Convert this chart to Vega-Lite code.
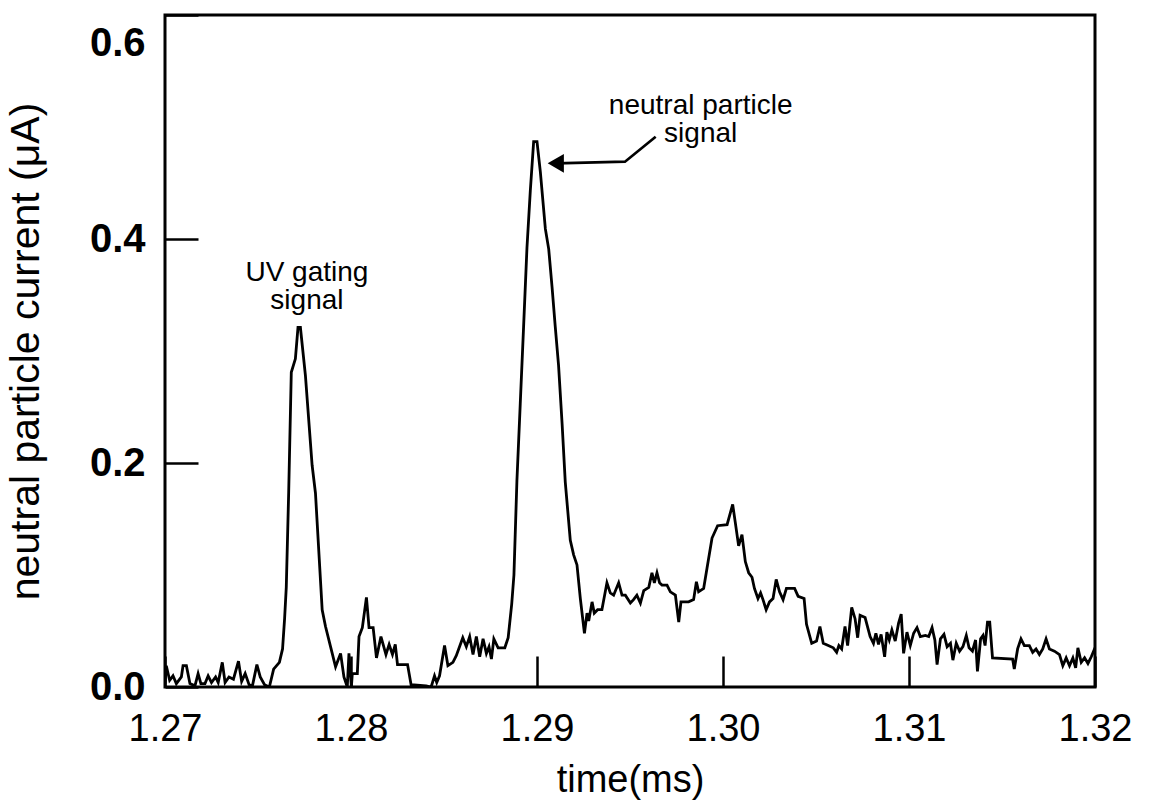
{
  "$schema": "https://vega.github.io/schema/vega-lite/v6.json",
  "autosize": "none",
  "width": 930,
  "height": 672,
  "padding": {"left": 165, "top": 15, "right": 56, "bottom": 118},
  "background": "white",
  "config": {
    "view": {"stroke": "black", "strokeWidth": 3},
    "font": "Liberation Sans"
  },
  "datasets": {
    "curve": [
      {"t":1.27000,"v":0.003},{"t":1.27007,"v":0.019},{"t":1.27025,"v":0.006},{"t":1.27043,"v":0.010},{"t":1.27061,"v":0.003},
      {"t":1.27088,"v":0.009},{"t":1.27097,"v":0.019},{"t":1.27115,"v":0.019},{"t":1.27134,"v":0.003},{"t":1.27161,"v":0.001},
      {"t":1.27178,"v":0.012},{"t":1.27193,"v":0.003},{"t":1.27215,"v":0.003},{"t":1.27232,"v":0.010},{"t":1.27250,"v":0.004},
      {"t":1.27272,"v":0.009},{"t":1.27286,"v":0.004},{"t":1.27308,"v":0.022},{"t":1.27323,"v":0.004},{"t":1.27344,"v":0.009},
      {"t":1.27368,"v":0.007},{"t":1.27395,"v":0.023},{"t":1.27412,"v":0.005},{"t":1.27431,"v":0.012},{"t":1.27452,"v":0.002},
      {"t":1.27470,"v":0.001},{"t":1.27494,"v":0.020},{"t":1.27512,"v":0.009},{"t":1.27535,"v":0.002},{"t":1.27561,"v":0.000},
      {"t":1.27584,"v":0.016},{"t":1.27615,"v":0.022},{"t":1.27632,"v":0.034},{"t":1.27643,"v":0.061},{"t":1.27652,"v":0.089},
      {"t":1.27665,"v":0.174},{"t":1.27679,"v":0.281},{"t":1.27701,"v":0.293},{"t":1.27715,"v":0.321},{"t":1.27728,"v":0.321},
      {"t":1.27755,"v":0.278},{"t":1.27791,"v":0.198},{"t":1.27809,"v":0.173},{"t":1.27845,"v":0.069},{"t":1.27863,"v":0.054},
      {"t":1.27890,"v":0.036},{"t":1.27917,"v":0.018},{"t":1.27944,"v":0.030},{"t":1.27962,"v":0.009},{"t":1.27980,"v":0.000},
      {"t":1.27989,"v":0.030},{"t":1.28002,"v":0.000},{"t":1.28007,"v":0.012},{"t":1.28034,"v":0.012},{"t":1.28043,"v":0.045},
      {"t":1.28061,"v":0.053},{"t":1.28083,"v":0.080},{"t":1.28097,"v":0.053},{"t":1.28119,"v":0.053},{"t":1.28137,"v":0.026},
      {"t":1.28161,"v":0.045},{"t":1.28188,"v":0.029},{"t":1.28205,"v":0.038},{"t":1.28223,"v":0.029},{"t":1.28238,"v":0.038},
      {"t":1.28250,"v":0.020},{"t":1.28304,"v":0.020},{"t":1.28323,"v":0.002},{"t":1.28404,"v":0.001},{"t":1.28431,"v":0.000},
      {"t":1.28449,"v":0.010},{"t":1.28461,"v":0.004},{"t":1.28476,"v":0.010},{"t":1.28503,"v":0.037},{"t":1.28521,"v":0.019},
      {"t":1.28548,"v":0.022},{"t":1.28566,"v":0.028},{"t":1.28601,"v":0.044},{"t":1.28620,"v":0.036},{"t":1.28638,"v":0.045},
      {"t":1.28656,"v":0.029},{"t":1.28674,"v":0.045},{"t":1.28692,"v":0.027},{"t":1.28710,"v":0.043},{"t":1.28728,"v":0.030},
      {"t":1.28742,"v":0.036},{"t":1.28755,"v":0.025},{"t":1.28768,"v":0.043},{"t":1.28791,"v":0.035},{"t":1.28827,"v":0.035},
      {"t":1.28845,"v":0.044},{"t":1.28864,"v":0.074},{"t":1.28876,"v":0.100},{"t":1.28892,"v":0.184},{"t":1.28910,"v":0.253},
      {"t":1.28928,"v":0.322},{"t":1.28946,"v":0.392},{"t":1.28964,"v":0.443},{"t":1.28982,"v":0.487},{"t":1.29000,"v":0.487},
      {"t":1.29018,"v":0.460},{"t":1.29045,"v":0.409},{"t":1.29063,"v":0.391},{"t":1.29081,"v":0.357},{"t":1.29098,"v":0.322},
      {"t":1.29116,"v":0.287},{"t":1.29135,"v":0.235},{"t":1.29152,"v":0.183},{"t":1.29179,"v":0.131},{"t":1.29197,"v":0.118},
      {"t":1.29215,"v":0.109},{"t":1.29233,"v":0.079},{"t":1.29255,"v":0.048},{"t":1.29269,"v":0.066},{"t":1.29278,"v":0.059},
      {"t":1.29296,"v":0.076},{"t":1.29308,"v":0.066},{"t":1.29326,"v":0.069},{"t":1.29349,"v":0.069},{"t":1.29376,"v":0.093},
      {"t":1.29394,"v":0.084},{"t":1.29412,"v":0.082},{"t":1.29439,"v":0.093},{"t":1.29457,"v":0.082},{"t":1.29475,"v":0.082},
      {"t":1.29502,"v":0.075},{"t":1.29519,"v":0.078},{"t":1.29537,"v":0.082},{"t":1.29556,"v":0.075},{"t":1.29574,"v":0.086},
      {"t":1.29601,"v":0.089},{"t":1.29618,"v":0.102},{"t":1.29631,"v":0.093},{"t":1.29645,"v":0.102},{"t":1.29659,"v":0.093},
      {"t":1.29672,"v":0.091},{"t":1.29699,"v":0.091},{"t":1.29717,"v":0.085},{"t":1.29744,"v":0.082},{"t":1.29762,"v":0.058},
      {"t":1.29774,"v":0.076},{"t":1.29815,"v":0.076},{"t":1.29842,"v":0.078},{"t":1.29857,"v":0.094},{"t":1.29869,"v":0.085},
      {"t":1.29896,"v":0.088},{"t":1.29914,"v":0.106},{"t":1.29941,"v":0.133},{"t":1.29971,"v":0.144},{"t":1.30022,"v":0.145},
      {"t":1.30052,"v":0.163},{"t":1.30066,"v":0.147},{"t":1.30084,"v":0.126},{"t":1.30102,"v":0.136},{"t":1.30120,"v":0.112},
      {"t":1.30138,"v":0.102},{"t":1.30156,"v":0.098},{"t":1.30169,"v":0.088},{"t":1.30188,"v":0.079},{"t":1.30202,"v":0.084},
      {"t":1.30215,"v":0.078},{"t":1.30232,"v":0.069},{"t":1.30250,"v":0.076},{"t":1.30269,"v":0.079},{"t":1.30286,"v":0.096},
      {"t":1.30304,"v":0.085},{"t":1.30323,"v":0.078},{"t":1.30341,"v":0.088},{"t":1.30385,"v":0.088},{"t":1.30404,"v":0.081},
      {"t":1.30436,"v":0.079},{"t":1.30449,"v":0.056},{"t":1.30477,"v":0.039},{"t":1.30503,"v":0.041},{"t":1.30521,"v":0.054},
      {"t":1.30539,"v":0.039},{"t":1.30566,"v":0.037},{"t":1.30593,"v":0.035},{"t":1.30611,"v":0.031},{"t":1.30623,"v":0.037},
      {"t":1.30638,"v":0.034},{"t":1.30656,"v":0.054},{"t":1.30670,"v":0.037},{"t":1.30692,"v":0.071},{"t":1.30710,"v":0.061},
      {"t":1.30724,"v":0.044},{"t":1.30737,"v":0.064},{"t":1.30764,"v":0.062},{"t":1.30791,"v":0.045},{"t":1.30809,"v":0.039},
      {"t":1.30822,"v":0.048},{"t":1.30836,"v":0.038},{"t":1.30850,"v":0.047},{"t":1.30869,"v":0.027},{"t":1.30881,"v":0.049},
      {"t":1.30894,"v":0.042},{"t":1.30908,"v":0.051},{"t":1.30926,"v":0.041},{"t":1.30944,"v":0.057},{"t":1.30958,"v":0.065},
      {"t":1.30971,"v":0.030},{"t":1.30989,"v":0.049},{"t":1.31007,"v":0.037},{"t":1.31025,"v":0.048},{"t":1.31043,"v":0.053},
      {"t":1.31061,"v":0.045},{"t":1.31088,"v":0.046},{"t":1.31106,"v":0.045},{"t":1.31124,"v":0.053},{"t":1.31139,"v":0.042},
      {"t":1.31151,"v":0.020},{"t":1.31169,"v":0.043},{"t":1.31188,"v":0.047},{"t":1.31205,"v":0.036},{"t":1.31223,"v":0.039},
      {"t":1.31236,"v":0.024},{"t":1.31254,"v":0.039},{"t":1.31272,"v":0.032},{"t":1.31290,"v":0.036},{"t":1.31308,"v":0.046},
      {"t":1.31323,"v":0.035},{"t":1.31341,"v":0.032},{"t":1.31358,"v":0.042},{"t":1.31368,"v":0.014},{"t":1.31385,"v":0.043},
      {"t":1.31398,"v":0.046},{"t":1.31409,"v":0.037},{"t":1.31422,"v":0.058},{"t":1.31434,"v":0.058},{"t":1.31449,"v":0.026},
      {"t":1.31557,"v":0.025},{"t":1.31566,"v":0.016},{"t":1.31584,"v":0.034},{"t":1.31602,"v":0.043},{"t":1.31620,"v":0.037},
      {"t":1.31647,"v":0.037},{"t":1.31665,"v":0.031},{"t":1.31683,"v":0.034},{"t":1.31701,"v":0.029},{"t":1.31719,"v":0.034},
      {"t":1.31737,"v":0.043},{"t":1.31755,"v":0.034},{"t":1.31782,"v":0.032},{"t":1.31809,"v":0.029},{"t":1.31827,"v":0.019},
      {"t":1.31845,"v":0.026},{"t":1.31863,"v":0.019},{"t":1.31881,"v":0.026},{"t":1.31896,"v":0.017},{"t":1.31908,"v":0.035},
      {"t":1.31926,"v":0.022},{"t":1.31944,"v":0.026},{"t":1.31962,"v":0.021},{"t":1.31980,"v":0.027},{"t":1.32000,"v":0.035}
    ],
    "arrow": [
      {"t":1.29101,"v":0.4676,"o":1},
      {"t":1.29473,"v":0.4690,"o":2},
      {"t":1.29638,"v":0.4913,"o":3}
    ],
    "head": [
      {"t":1.29101,"v":0.4676}
    ],
    "notes": [
      {"t":1.27763,"v":0.3625,"label":["UV gating","signal"]},
      {"t":1.29880,"v":0.5116,"label":["neutral particle","signal"]}
    ]
  },
  "layer": [
    {
      "data": {"name": "curve"},
      "mark": {"type": "line", "color": "black", "strokeWidth": 2.8, "strokeJoin": "miter", "clip": true},
      "encoding": {
        "x": {
          "field": "t", "type": "quantitative",
          "scale": {"domain": [1.27, 1.32], "nice": false, "zero": false},
          "axis": {
            "title": "time(ms)",
            "values": [1.27, 1.28, 1.29, 1.30, 1.31, 1.32],
            "format": ".2f",
            "grid": false, "domain": false,
            "tickSize": -31, "tickWidth": 2.5, "tickColor": "black",
            "labelFont": "Liberation Sans", "labelFontSize": 38, "labelColor": "black",
            "labelPadding": 54, "labelFlush": false,
            "titleFont": "Liberation Sans", "titleFontSize": 38, "titleFontWeight": "normal", "titleColor": "black",
            "titlePadding": 13
          }
        },
        "y": {
          "field": "v", "type": "quantitative",
          "scale": {"domain": [0, 0.6], "nice": false},
          "axis": {
            "title": "neutral particle current (μA)",
            "values": [0, 0.2, 0.4, 0.6],
            "format": ".1f",
            "grid": false, "domain": false,
            "tickSize": -33, "tickWidth": 2.5, "tickColor": "black",
            "labelFont": "Liberation Sans", "labelFontSize": 40, "labelFontWeight": "bold", "labelColor": "black",
            "labelPadding": 53, "labelFlush": false,
            "labelOffset": {"condition": {"test": "datum.value >= 0.59", "value": 28}, "value": 0},
            "titleFont": "Liberation Sans", "titleFontSize": 41, "titleFontWeight": "normal", "titleColor": "black",
            "titlePadding": 42
          }
        }
      }
    },
    {
      "data": {"name": "arrow"},
      "mark": {"type": "line", "color": "black", "strokeWidth": 2.7},
      "encoding": {
        "x": {"field": "t", "type": "quantitative"},
        "y": {"field": "v", "type": "quantitative"},
        "order": {"field": "o"}
      }
    },
    {
      "data": {"name": "head"},
      "mark": {"type": "point", "shape": "triangle-left", "filled": true, "color": "black", "size": 350, "opacity": 1},
      "encoding": {
        "x": {"field": "t", "type": "quantitative"},
        "y": {"field": "v", "type": "quantitative"}
      }
    },
    {
      "data": {"name": "notes"},
      "mark": {"type": "text", "font": "Liberation Sans", "fontSize": 28, "lineHeight": 28, "color": "black", "align": "center", "baseline": "alphabetic"},
      "encoding": {
        "x": {"field": "t", "type": "quantitative"},
        "y": {"field": "v", "type": "quantitative"},
        "text": {"field": "label"}
      }
    }
  ]
}
